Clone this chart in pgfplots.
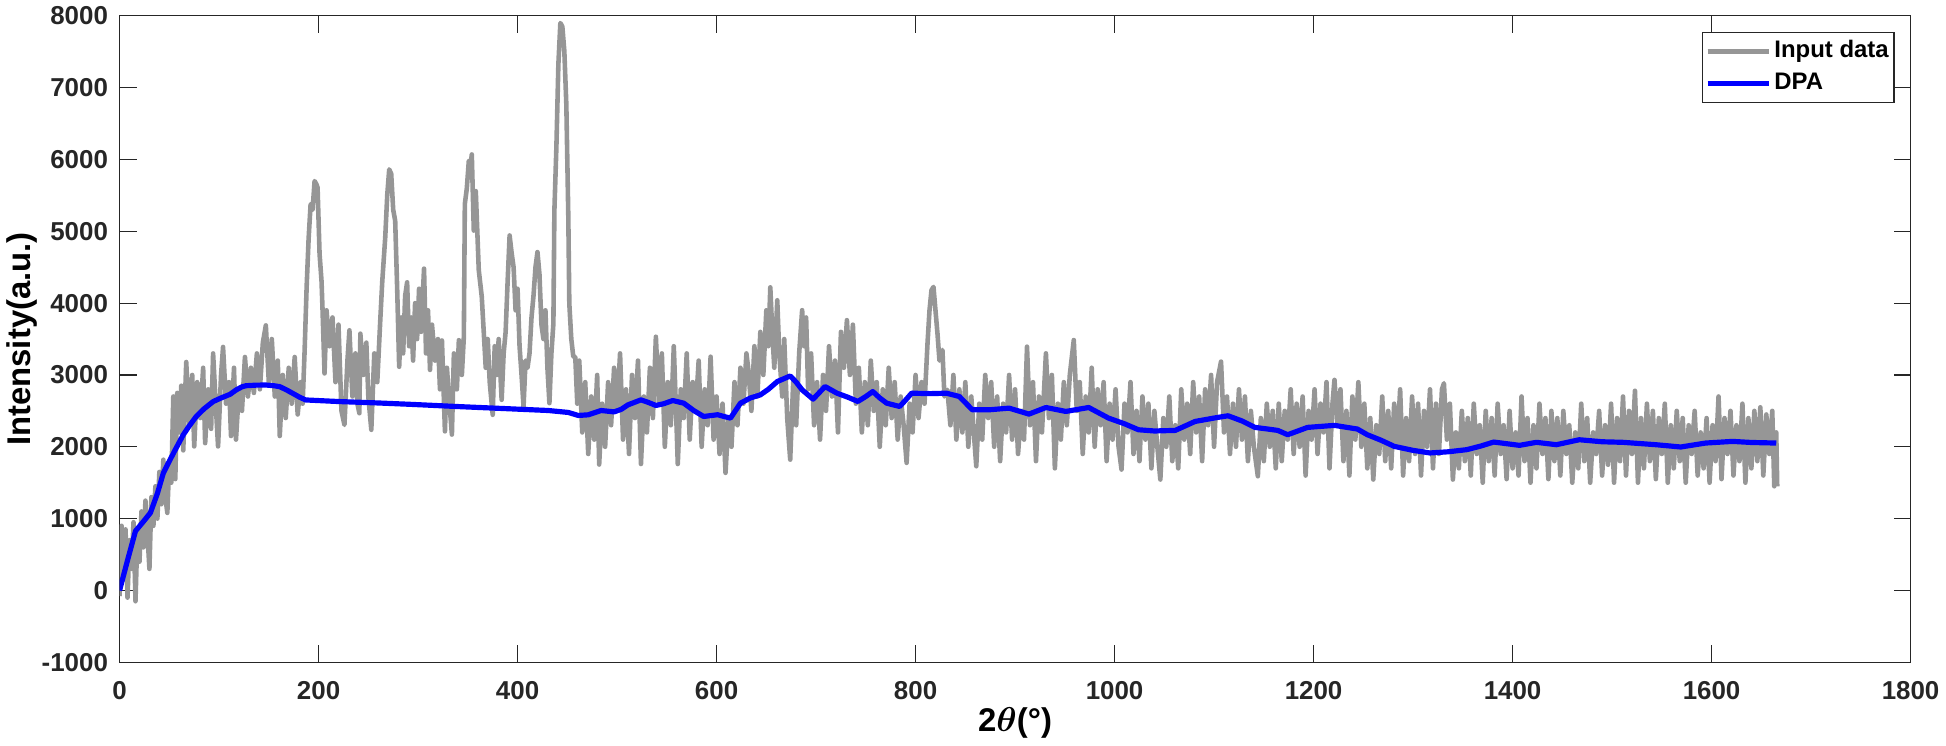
\documentclass[border=0pt]{standalone}
\usepackage{pgfplots}
\pgfplotsset{compat=1.18}
\usepackage{fontspec}
\setmainfont{Liberation Sans}
\definecolor{inputgray}{RGB}{150,150,150}
\definecolor{axgray}{RGB}{38,38,38}
\begin{document}
\begin{tikzpicture}
\begin{axis}[
  scale only axis, width=899pt, height=324.5pt,
  xmin=0, xmax=1800, ymin=-1000, ymax=8000,
  xtick={0,200,...,1800}, ytick={-1000,0,...,8000},
  tick align=inside, major tick length=8.5pt,
  axis line style={axgray, line width=0.6pt},
  every tick/.style={axgray, line width=0.6pt},
  /pgf/number format/assume math mode=true,
  /pgf/number format/1000 sep={},
  every tick label/.append style={font=\bfseries\fontsize{13}{15}\selectfont, text=axgray},
  xticklabel style={yshift=-6.3pt},
  yticklabel style={xshift=-2.3pt},
  xlabel={\bfseries 2{\boldmath$\theta$}(°)},
  ylabel={\bfseries Intensity(a.u.)},
  label style={font=\bfseries\fontsize{16.5}{19}\selectfont},
  xlabel style={at={(axis description cs:0.5,-0.094)}, anchor=center},
  ylabel style={at={(axis description cs:-0.0545,0.5)}, anchor=center},
  legend style={at={(rel axis cs:0.9911,0.9753)}, anchor=north east,
    draw=axgray, line width=0.6pt, font=\bfseries\fontsize{12}{15}\selectfont,
    inner xsep=1.5pt, inner ysep=1.8pt, row sep=0pt,
    nodes={inner xsep=1.2pt, inner ysep=1.9pt, text height=9pt, text depth=3pt}},
  legend cell align=left,
  legend image code/.code={\draw[#1, line cap=butt] (0pt,0pt) -- (31pt,0pt);},
]
% input data
\addplot[inputgray, line width=2.3pt, line join=round] coordinates {
(0,-80)(2,900)(4,150)(6,850)(8,-100)(10,700)(12,300)(14,950)(16,-150)(18,800)(20,400)(22,1100)(24,600)(26,1250)(28,800)(30,300)(32,1300)(34,900)(36,1450)(38,1000)(40,1650)(42,1200)(44,1820)(46,1300)(48,1080)(50,1800)(52,1500)(54,2700)(56,1550)(58,2750)(60,2200)(62,2850)(64,1950)
(67,3180)(70,2300)(73,3000)(75,2005)(78,2900)(81,2400)(84,3100)(86,2050)(89,2800)(92,2250)(94,3300)(97,2500)(99,2005)(102,3000)(104,3390)(107,2600)(110,2900)(112,2150)(115,3100)(117,2100)(120,2800)(123,2500)(126,3250)(129,2700)
(132,3100)(135,2750)(138,3300)(141,2800)(144,3450)(147,3690)(150,2900)(153,3500)(156,2700)(159,3200)(161,2150)(164,3000)(167,2400)(170,3100)(173,2600)(176,3250)(179,2450)(182,2900)(184,2600)(186,3350)
(188,4223)(190,4900)(192,5378)(194,5300)(196,5700)(198,5650)(199,5609)(201,4685)(203,4300)(204,3900)(206,3021)(208,3900)
(211,3400)(214,3800)(217,2900)(220,3700)(223,2500)(226,2305)(229,3200)(231,3622)(234,2700)(237,3300)(239,2600)(241,2467)(242,3575)(245,3000)(248,3450)(250,2700)(253,2236)(256,3300)(259,2900)
(262,3760)(264,4300)(267,4916)(269,5500)(271,5862)(273,5800)(275,5300)(277,5147)(279,4200)(281,3114)
(283,3800)(285,3300)(287,4100)(289,4290)(291,3400)(293,3800)(295,3200)(297,4000)(299,3500)(301,4200)(303,3600)(306,4480)(308,3300)(310,3900)(312,3070)(314,3700)(317,3200)(320,3500)(322,2800)(324,3480)(327,2215)(329,3100)(331,2700)(334,2170)(336,3300)(339,2800)(341,3484)(344,3000)
(346,3530)(347,5380)(349,5600)(351,5980)(353,5950)(354,6070)(356,5010)(358,5560)(361,4460)(364,4090)
(366,3600)(368,3100)(370,3500)(372,2900)(375,2445)(377,3400)(379,3000)(381,3500)(384,2654)(386,3300)(388,3600)
(390,4300)(392,4942)(394,4700)(396,4500)(398,3900)(400,4200)(402,3400)(404,3000)(406,2560)(408,3200)(410,3100)(412,3300)(414,3800)
(416,4100)(418,4500)(420,4711)(422,4400)(424,3700)(426,3500)(428,3900)(430,3100)(432,2607)(434,3300)
(436,3717)(437,5290)(439,6167)(441,7323)(443,7900)(445,7850)(447,7508)(449,6768)(451,5197)(452,3994)(454,3500)(456,3255)(458,3250)(460,2600)(462,3200)
(465,2200)(468,2900)(471,1900)(474,2700)(477,2100)(480,3000)(482,1753)(485,2600)(488,2000)(491,2900)(494,2300)(497,3100)(500,2500)(503,3300)(506,2100)(509,2800)(512,1900)(515,3000)(518,2400)(521,3200)(524,1760)(527,2700)(530,2200)(533,3100)(536,2400)(539,3532)(542,2600)(545,3300)(548,2000)(551,2900)(554,2300)(557,3400)(560,2200)(561,1760)(564,2800)(567,2400)(570,3300)(573,2100)(576,2900)(579,2500)(582,3200)
(585,2000)(588,2800)(591,2300)(594,3254)(597,2100)(600,2700)(603,1900)(606,2600)(609,1637)(612,2400)(615,2000)(618,2900)(621,2300)(624,3100)(627,2600)(630,3300)(632,3070)(635,2500)(638,3400)(641,2700)(644,3600)(647,3000)(650,3900)(652,3400)(654,4220)(656,3600)(658,3100)(661,4040)(663,3300)(666,2700)(668,3500)(671,2400)(674,1821)(677,2900)(680,2300)(683,3300)(686,3902)(688,3400)(690,3800)(692,2800)(695,3300)(698,2300)(701,2900)(704,2100)(707,3000)(710,2500)(713,3400)(716,2700)(719,3200)(722,2200)(725,3600)(728,3100)(731,3763)(734,3000)(737,3700)(740,2600)(743,3100)(746,2200)(749,2900)(752,2300)(755,3200)(758,2500)(761,2900)(764,2000)(767,2800)(770,2300)(773,3100)(776,2400)(779,2900)(782,2100)(785,2700)(788,2300)(791,1776)(794,2600)(797,2200)(800,3000)(803,2400)(806,2900)(809,2600)(812,3440)(814,3900)(816,4180)(818,4226)(820,3900)(822,3579)(824,3200)(827,3348)(829,2700)(832,2793)(835,2300)(838,3000)(841,2100)(844,2800)(847,2200)(850,2900)(853,2000)(856,2700)(858,2300)(861,1729)(864,2600)(867,2100)(870,3000)(873,2400)
(876,2900)(879,2000)(882,2700)(885,1800)(888,2600)(891,2200)(894,3000)(897,2100)(900,2800)(903,1900)(906,2500)(909,2100)(912,3394)(915,2300)(918,2900)(921,1800)(924,2700)(927,2200)(931,3301)(934,2400)(937,3000)(940,1700)(943,2600)(946,2100)(949,2900)(952,2300)(955,3000)(959,3486)(962,2500)(965,2900)(968,1900)(971,2700)(974,2200)(977,3100)(980,2000)(983,2800)(986,2300)(989,2900)(992,1800)(995,2600)(998,2100)(1001,2800)(1004,2000)(1007,1683)(1010,2600)(1013,2200)(1016,2900)(1019,1900)(1022,2500)(1025,1800)(1028,2700)(1031,2100)(1034,2600)(1037,1700)(1040,2500)(1043,2000)(1046,1544)(1049,2400)(1052,2000)(1055,2700)(1058,1800)(1061,2300)(1064,1700)(1067,2800)(1070,2100)(1073,2600)(1076,1900)(1079,2900)(1082,2200)(1085,2700)(1088,1800)(1091,2800)(1094,2300)(1097,3000)(1100,2000)(1103,2900)(1107,3186)(1110,2200)(1113,2700)(1116,1900)(1119,2600)(1122,2000)(1125,2800)(1128,2100)(1131,2700)(1134,1800)(1137,2500)(1140,2000)(1144,1590)(1147,2400)(1150,1800)(1153,2600)(1156,2000)(1159,2500)(1162,1700)
(1165,2600)(1168,1800)(1171,2500)(1174,2100)(1177,2800)(1180,1900)(1183,2600)(1186,2000)(1189,2700)(1192,1600)(1195,2500)(1198,2100)(1201,2800)(1204,1900)(1207,2600)(1210,2200)(1213,2900)(1216,1700)(1219,2600)(1221,2931)(1224,2300)(1227,2800)(1230,1800)(1233,2500)(1236,1600)(1239,2700)(1242,2100)(1245,2900)(1248,2000)(1251,2600)(1254,1700)(1257,2400)(1260,1544)(1263,2300)(1266,1900)(1269,2700)(1272,1800)(1275,2500)(1278,1700)(1281,2600)(1284,2000)(1287,2800)(1290,1600)(1293,2400)(1296,1800)(1299,2700)(1302,1900)(1305,2600)(1308,1600)(1311,2500)(1314,2000)(1317,2800)(1320,1700)(1323,2600)(1326,1900)(1329,2800)(1331,2885)(1334,2100)(1337,2600)(1340,1544)(1343,2200)(1346,1700)(1349,2500)(1352,1800)(1355,2400)(1358,1600)(1361,2600)(1364,1900)(1367,2300)(1370,1500)(1373,2500)(1376,1800)(1379,2400)(1382,1600)(1385,2600)(1388,1900)(1391,2300)(1394,1550)(1397,2500)(1400,1700)(1403,2200)(1406,1600)(1409,2700)(1412,1800)(1415,2400)(1418,1500)(1421,2300)(1424,1700)(1427,2600)(1430,1900)(1433,2400)(1436,1550)(1439,2500)(1442,1800)
(1445,2400)(1448,1600)(1451,2500)(1454,1900)(1457,2300)(1460,1500)(1463,2200)(1466,1700)(1469,2600)(1472,1800)(1475,2400)(1478,1500)(1481,2200)(1484,1900)(1487,2500)(1490,1600)(1493,2300)(1496,1750)(1499,2600)(1502,1500)(1505,2400)(1508,1800)(1511,2700)(1514,1600)(1517,2500)(1520,1900)(1523,2780)(1526,1500)(1529,2400)(1532,1700)(1535,2600)(1538,1800)(1541,2500)(1544,1550)(1547,2400)(1550,1900)(1553,2600)(1556,1500)(1559,2300)(1562,1700)(1565,2500)(1568,1800)(1571,2400)(1574,1500)(1577,2300)(1580,1900)(1583,2500)(1586,1600)(1589,2200)(1592,1700)(1595,2400)(1598,1500)(1601,2300)(1604,1800)(1607,2700)(1610,1550)(1613,2400)(1616,1900)(1619,2500)(1622,1600)(1625,2300)(1628,1800)(1631,2600)(1634,1500)(1637,2400)(1640,1700)(1643,2500)(1646,1800)(1649,2550)(1652,1600)(1655,2450)(1658,1900)(1661,2500)(1663,1450)(1665,2200)(1666,1450)
};
\addlegendentry{Input data\hspace{1.5pt}}
% DPA baseline
\addplot[blue, line width=2.6pt, line join=round] coordinates {
(0,0)(8,420)(16,827)(24,960)(31,1081)(38,1350)(44,1635)(50,1800)(56,1960)(64,2167)(70,2290)(77,2421)(85,2530)(94,2629)(102,2680)(111,2730)(117,2790)(123,2835)(127,2850)(137,2858)(147,2860)(155,2850)(161,2837)(168,2790)(174,2744)(181,2690)(187,2652)
(220,2630)(260,2610)(294,2590)(340,2560)(390,2530)(431,2505)(451,2478)(461,2436)(471,2445)(484,2505)(497,2486)(504,2520)(511,2584)(524,2653)(531,2620)(539,2575)(547,2600)(556,2644)(567,2607)(577,2505)(587,2422)(601,2446)(608,2420)(614,2399)
(624,2607)(634,2680)(644,2723)(652,2800)(661,2908)(674,2986)(680,2900)(686,2792)(697,2663)(709,2839)(721,2746)(732,2690)(742,2631)(750,2700)(757,2769)(764,2680)(771,2607)(784,2561)(790,2650)(796,2746)(815,2740)(831,2746)(844,2700)(857,2515)(874,2515)
(894,2538)(914,2455)(931,2547)(951,2492)(974,2547)(994,2399)(1010,2320)(1024,2237)(1040,2220)(1061,2228)(1081,2353)(1100,2400)(1114,2432)(1128,2360)(1141,2270)(1154,2247)(1164,2228)(1174,2168)(1194,2270)(1221,2298)(1244,2247)(1254,2168)(1268,2090)(1281,2006)(1300,1950)(1317,1914)(1335,1930)(1354,1960)(1368,2010)(1381,2066)(1407,2020)(1424,2062)(1444,2029)(1467,2098)(1490,2070)(1511,2062)(1544,2029)(1569,1997)(1594,2052)(1621,2075)(1640,2060)(1665,2052)
};
\addlegendentry{DPA}
\end{axis}
\end{tikzpicture}
\end{document}
